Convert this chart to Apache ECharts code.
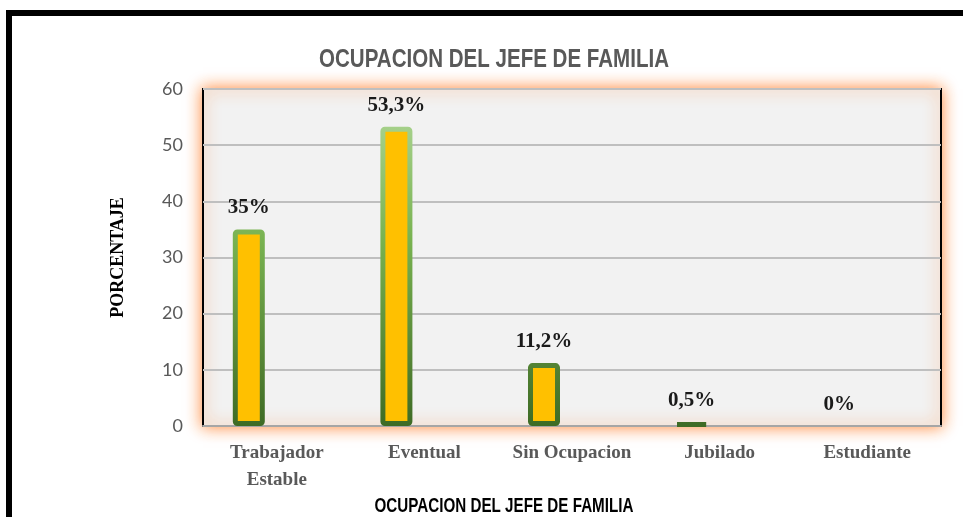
<!DOCTYPE html>
<html>
<head>
<meta charset="utf-8">
<script src="https://cdn.jsdelivr.net/npm/echarts@6/dist/echarts.min.js"></script>
<style>
  html, body { margin: 0; padding: 0; background: #fff; overflow: hidden; }
  #frame {
    position: absolute; left: 6px; top: 10px;
    width: 1000px; height: 600px;
    border: 6px solid #000;
  }
  #contain {
    position: absolute; left: 0; top: 0;
    width: 963px; height: 517px;
  }
</style>
</head>
<body>
<div id="frame"></div>
<div id="contain"></div>
<script>
const categories = ['Trabajador\nEstable', 'Eventual', 'Sin Ocupacion', 'Jubilado', 'Estudiante']
const porcentajes = [35, 53.3, 11.2, 0.5, 0]
const yTicks = { min: 0, max: 60, interval: 10 }
const titulo = 'OCUPACION DEL JEFE DE FAMILIA'
const ejeX = 'OCUPACION DEL JEFE DE FAMILIA'
const ejeY = 'PORCENTAJE'

const chartDom = document.getElementById('contain')
const myChart = echarts.init(chartDom)

// green border darkens towards the bottom of the plot
const borde = new echarts.graphic.LinearGradient(0, 89, 0, 426, [
  { offset: 0, color: '#b4da9c' },
  { offset: 0.45, color: '#78b250' },
  { offset: 0.8, color: '#558535' },
  { offset: 1, color: '#3e6b25' }
], true)

const fmt = (v) => String(v).replace('.', ',') + '%'
const sansBold = '"Liberation Sans", Arial, sans-serif'

const option = {
  // narrow bold headings (no Arial Narrow here, so squeeze horizontally)
  graphic: [
    {
      type: 'text',
      x: 494,
      y: 60,
      scaleX: 0.79,
      style: {
        text: titulo,
        font: 'bold 26px ' + sansBold,
        fill: '#595959',
        align: 'center',
        verticalAlign: 'middle'
      }
    },
    {
      type: 'text',
      x: 504,
      y: 506,
      scaleX: 0.76,
      style: {
        text: ejeX,
        font: 'bold 20px ' + sansBold,
        fill: '#000',
        align: 'center',
        verticalAlign: 'middle'
      }
    }
  ],
  grid: {
    left: 203,
    right: 22,
    top: 89,
    bottom: 91,
    outerBoundsMode: 'none',
    show: true,
    backgroundColor: '#f2f2f2',
    borderColor: '#000',
    borderWidth: 2,
    shadowColor: 'rgba(255, 125, 40, 0.9)',
    shadowBlur: 15
  },
  xAxis: {
    type: 'category',
    data: categories,
    axisLine: { lineStyle: { color: '#a6a6a6', width: 2 } },
    axisTick: { show: false },
    axisLabel: {
      interval: 0,
      margin: 14,
      fontFamily: '"Liberation Serif", "Times New Roman", serif',
      fontWeight: 'bold',
      fontSize: 19,
      lineHeight: 27,
      color: '#595959'
    }
  },
  yAxis: {
    type: 'value',
    min: yTicks.min,
    max: yTicks.max,
    interval: yTicks.interval,
    name: ejeY,
    nameLocation: 'middle',
    nameRotate: 90,
    nameGap: 76,
    nameTextStyle: {
      fontFamily: '"Liberation Serif", "Times New Roman", serif',
      fontWeight: 'bold',
      fontSize: 18,
      color: '#000'
    },
    axisLine: { show: false },
    axisTick: { show: false },
    axisLabel: {
      margin: 20,
      fontFamily: 'Lato, "Open Sans", sans-serif',
      fontSize: 18,
      color: '#595959'
    },
    splitLine: { lineStyle: { color: '#bfbfbf', width: 2 } }
  },
  series: [
    {
      type: 'bar',
      barWidth: 32,
      barGap: '75%',
      data: porcentajes.map((v) => ({
        value: v,
        itemStyle: v === 0 ? { borderWidth: 0 } : {}
      })),
      itemStyle: {
        color: '#ffc000',
        borderColor: borde,
        borderWidth: 5,
        borderRadius: 2
      },
      label: {
        show: true,
        position: 'top',
        distance: 11,
        formatter: (p) => fmt(p.value),
        fontFamily: '"Liberation Serif", "Times New Roman", serif',
        fontWeight: 'bold',
        fontSize: 21,
        color: '#1a1a1a'
      }
    },
    {
      // empty second slot, as in the original spreadsheet chart
      type: 'bar',
      barWidth: 32,
      data: []
    }
  ]
}

myChart.setOption(option)
</script>
</body>
</html>
